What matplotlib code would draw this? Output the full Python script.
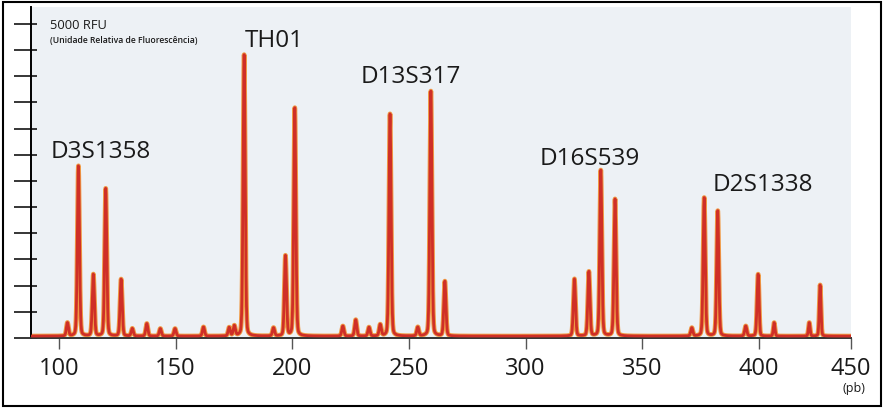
import numpy as np
import matplotlib
matplotlib.use('Agg')
import matplotlib.pyplot as plt
from matplotlib.patches import Rectangle

plt.rcParams['font.family'] = ['Open Sans', 'DejaVu Sans']

# peak positions (pb) and heights (RFU)
tamanhos = [103.7, 108.4, 114.8, 120.1, 126.7, 131.5, 137.7, 143.5, 149.8, 162.0,
            173.0, 175.2, 179.4, 192.0, 197.1, 201.1, 221.7, 227.2, 232.9, 237.7,
            241.9, 253.8, 259.4, 265.4, 320.9, 327.1, 332.2, 338.3, 371.2, 376.5,
            382.3, 394.3, 399.6, 408.2, 427.3, 433.2]
alturas = [210, 2710, 980, 2350, 905, 120, 200, 120, 120, 145,
           135, 160, 4480, 130, 1275, 3635, 160, 260, 140, 180,
           3540, 140, 3900, 870, 910, 1025, 2640, 2180, 130, 2205,
           1995, 160, 985, 215, 215, 815]
linha_base = 30

marcadores = ['D3S1358', 'TH01', 'D13S317', 'D16S539', 'D2S1338']
marcador_x = [96.3, 179.8, 229.1, 306.2, 380.3]
marcador_y = [2866, 4633, 4060, 2754, 2340]

xticks = [100, 150, 200, 250, 300, 350, 400, 450]
yticks = np.linspace(0, 5000, 13)

# the printed axis is squeezed between 400 and 450
k = 0.788
def fwd(x):
    x = np.asarray(x, dtype=float)
    return np.where(x <= 400, x, 400 + (x - 400) * k)
def inv(x):
    x = np.asarray(x, dtype=float)
    return np.where(x <= 400, x, 400 + (x - 400) / k)

def pico(x, c, h):
    g = np.exp(-0.5 * ((x - c) / 0.45) ** 2)
    lz = 1.0 / (1 + ((x - c) / 0.5) ** 2)
    return h * (0.8 * g + 0.2 * lz)

xs = np.linspace(88.1, 450, 8000)
sinal = np.full_like(xs, linha_base, dtype=float)
for c, h in zip(tamanhos, alturas):
    sinal += pico(xs, c, h)

fig = plt.figure(figsize=(8.84, 4.09), dpi=100)
ax = fig.add_axes([0.0351, 0.1736, 0.9276, 0.8093])
ax.set_facecolor('#edf1f5')
ax.set_xscale('function', functions=(fwd, inv))
ax.set_xlim(88.1, 450)
ax.set_ylim(0, 5270)

ax.plot(xs, sinal, color='#f09a45', lw=3.4, solid_joinstyle='round', zorder=2)
ax.plot(xs, sinal, color='#cf2f27', lw=2.0, solid_joinstyle='round', zorder=3)

for sp in ['top', 'right']:
    ax.spines[sp].set_visible(False)
ax.spines['left'].set_linewidth(1.4)
ax.spines['bottom'].set_linewidth(1.4)
ax.spines['bottom'].set_color('#333333')

ax.set_xticks(xticks)
ax.set_xticklabels([str(t) for t in xticks])
ax.tick_params(axis='x', direction='out', length=8, width=1.0, color='#555555',
               labelsize=17, pad=6, labelcolor='#1a1a1a')

ax.set_yticks(yticks)
ax.set_yticklabels([])
ax.yaxis.remove_overlapping_locs = False
ax.set_yticks(yticks, minor=True)
ax.tick_params(axis='y', which='major', direction='out', length=12.5, width=1.1, color='black')
ax.tick_params(axis='y', which='minor', direction='in', length=4.3, width=1.1, color='black')

for nome, mx, my in zip(marcadores, marcador_x, marcador_y):
    ax.text(mx, my, nome, fontsize=17.5, color='#1a1a1a', ha='left', va='baseline')

ax.text(96.3, 4919, '5000 RFU', fontsize=9.3, color='#1a1a1a', ha='left', va='baseline')
ax.text(96.3, 4690, '(Unidade Relativa de Fluorescência)', fontsize=6.2,
        fontweight='semibold', color='#1a1a1a', ha='left', va='baseline')

ax.annotate('(pb)', xy=(450, 0), xycoords=('data', 'axes fraction'), xytext=(2, -32),
            textcoords='offset points', ha='center', va='top', fontsize=9, color='#1a1a1a')

fig.patches.append(Rectangle((0.003, 0.008), 0.994, 0.987, transform=fig.transFigure,
                             fill=False, ec='black', lw=1.5))

fig.savefig('out.png', dpi=100, facecolor='white')
